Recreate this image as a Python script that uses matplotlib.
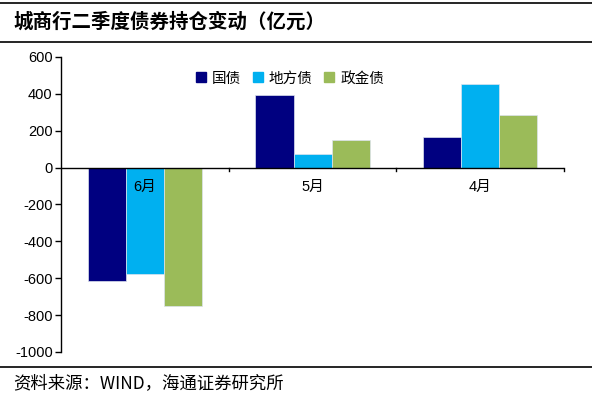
import numpy as np
import matplotlib
matplotlib.use("Agg")
import matplotlib.pyplot as plt
from matplotlib.lines import Line2D

plt.rcParams["font.family"] = ["Liberation Sans", "Noto Sans CJK SC"]

months = ["6月", "5月", "4月"]
series_names = ["国债", "地方债", "政金债"]
guozhai = [-615, 393, 165]
difangzhai = [-578, 72, 453]
zhengjinzhai = [-750, 147, 286]
colors = ["#000080", "#00B0F0", "#9BBB59"]
yticks = [600, 400, 200, 0, -200, -400, -600, -800, -1000]

fig = plt.figure(figsize=(5.92, 3.95), dpi=100)
ax = fig.add_axes([0.103, 0.109, 0.850, 0.747])

x = np.arange(len(months))
w = 0.227
for i, (vals, name, c) in enumerate(zip([guozhai, difangzhai, zhengjinzhai], series_names, colors)):
    ax.bar(x + (i - 1) * w, vals, width=w, color=c, label=name,
           edgecolor="#dde3ee", linewidth=0.5)

ax.set_xlim(-0.5, 2.5)
ax.set_ylim(-1000, 600)
ax.set_yticks(yticks)
ax.set_yticklabels([str(v) for v in yticks], fontsize=10.5)
ax.tick_params(axis="y", direction="out", length=4, width=1, pad=2)

ax.spines["top"].set_visible(False)
ax.spines["right"].set_visible(False)
ax.spines["bottom"].set_visible(False)
ax.spines["left"].set_linewidth(1)

# 零轴与类别分隔刻度
ax.axhline(0, color="black", linewidth=1)
ax.set_xticks([])
for b in [0.5, 1.5, 2.5]:
    ax.plot([b, b], [0, -20], color="black", linewidth=1, clip_on=False)

for xi, m in zip(x, months):
    ax.text(xi, -105, m, ha="center", va="center", fontsize=10.5)

handles = [plt.Rectangle((0, 0), 1, 1, color=c) for c in colors]
ax.legend(handles, series_names, loc="upper center", bbox_to_anchor=(0.455, 0.995),
          ncol=3, frameon=False, handlelength=0.7, handleheight=0.7,
          handletextpad=0.4, columnspacing=0.8,
          prop={"family": ["Noto Sans CJK SC"], "size": 10.5})

fig.text(0.022, 0.945, "城商行二季度债券持仓变动（亿元）", fontsize=14, fontweight="bold",
         family=["Noto Sans CJK SC"], va="center", ha="left")
fig.text(0.022, 0.03, "资料来源：WIND，海通证券研究所", fontsize=12.5,
         family=["Noto Sans CJK SC", "Liberation Sans"], va="center", ha="left")

for yy in [1 - 3 / 395, 1 - 42 / 395, 1 - 367 / 395]:
    fig.add_artist(Line2D([0.0, 1.0], [yy, yy], color="black", linewidth=1.2,
                          transform=fig.transFigure))

fig.savefig("out.png", dpi=100)
